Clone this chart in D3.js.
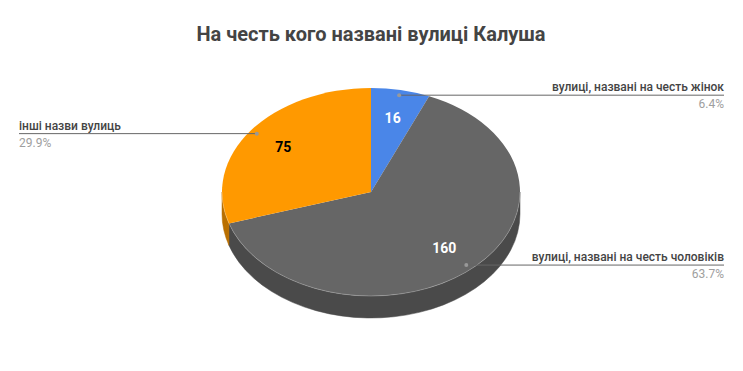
<!DOCTYPE html>
<html>
<head>
<meta charset="utf-8">
<script src="https://cdnjs.cloudflare.com/ajax/libs/d3/7.8.5/d3.min.js"></script>
<style>
  body { margin: 0; background: #fff; }
  text { font-family: Roboto, "Noto Sans", sans-serif; }
</style>
</head>
<body>
<script>
var chartTitle = "На честь кого названі вулиці Калуша";
var categories = ["вулиці, названі на честь жінок", "вулиці, названі на честь чоловіків", "інші назви вулиць"];
var values = [16, 160, 75];
var colors = ["#4a86e8", "#666666", "#ff9900"];

var width = 743, height = 371;
var cx = 371, cy = 192, rx = 149, ry = 104, depth = 22;

var svg = d3.select("body")
   .append("svg")
   .attr("width", width)
   .attr("height", height);

svg.append("text")
   .attr("x", 371)
   .attr("y", 41)
   .attr("text-anchor", "middle")
   .style("font-size", "20px")
   .style("font-weight", "bold")
   .style("fill", "#444444")
   .text(chartTitle);

var total = d3.sum(values);
var data = categories.map(function(c, i) {
   return { name: c, value: values[i], color: colors[i] };
});

var pie = d3.pie()
   .sort(null)
   .value(function(d) { return d.value; });
var arcs = pie(data);

function px(a, f) { return cx + rx * f * Math.sin(a); }
function py(a, f) { return cy - ry * f * Math.cos(a); }

// side walls (only front half, angles between PI/2 and 3PI/2)
var sides = svg.append("g");
arcs.forEach(function(d) {
   var a0 = Math.max(d.startAngle, Math.PI / 2);
   var a1 = Math.min(d.endAngle, 3 * Math.PI / 2);
   if (a1 <= a0) return;
   var path = "M" + px(a0, 1) + "," + py(a0, 1) +
      " A" + rx + "," + ry + " 0 0 1 " + px(a1, 1) + "," + py(a1, 1) +
      " L" + px(a1, 1) + "," + (py(a1, 1) + depth) +
      " A" + rx + "," + ry + " 0 0 0 " + px(a0, 1) + "," + (py(a0, 1) + depth) + " Z";
   var side = d3.color(d.data.color).darker(0.9);
   sides.append("path")
      .attr("d", path)
      .style("fill", side)
      .style("stroke", side)
      .style("stroke-width", 0.5);
});

// top surface
var tops = svg.append("g");
arcs.forEach(function(d) {
   var large = (d.endAngle - d.startAngle) > Math.PI ? 1 : 0;
   var path = "M" + cx + "," + cy +
      " L" + px(d.startAngle, 1) + "," + py(d.startAngle, 1) +
      " A" + rx + "," + ry + " 0 " + large + " 1 " + px(d.endAngle, 1) + "," + py(d.endAngle, 1) + " Z";
   tops.append("path")
      .attr("d", path)
      .style("fill", d.data.color);
});

// faint rim highlight along front edge
svg.append("path")
   .attr("d", "M" + px(Math.PI / 2, 1) + "," + py(Math.PI / 2, 1) +
      " A" + rx + "," + ry + " 0 0 1 " + px(3 * Math.PI / 2, 1) + "," + py(3 * Math.PI / 2, 1))
   .style("fill", "none")
   .style("stroke", "rgba(255,255,255,0.25)")
   .style("stroke-width", 1);

// value labels inside slices
arcs.forEach(function(d) {
   var mid = (d.startAngle + d.endAngle) / 2;
   svg.append("text")
      .attr("x", px(mid, 0.73))
      .attr("y", py(mid, 0.73) + 5)
      .attr("text-anchor", "middle")
      .style("font-size", "14px")
      .style("font-weight", "bold")
      .style("fill", d.data.color == "#ff9900" ? "#000000" : "#ffffff")
      .text(d.data.value);
});

// callouts
arcs.forEach(function(d) {
   var mid = (d.startAngle + d.endAngle) / 2;
   var dx = px(mid, 0.95), dy = py(mid, 0.95);
   var right = Math.sin(mid) > 0;
   var xEnd = right ? 724 : 19;
   var anchor = right ? "end" : "start";
   svg.append("line")
      .attr("x1", dx).attr("y1", dy)
      .attr("x2", xEnd).attr("y2", dy)
      .style("stroke", "#666666")
      .style("stroke-width", 1);
   svg.append("circle")
      .attr("cx", dx).attr("cy", dy).attr("r", 2)
      .style("fill", "#999999");
   svg.append("text")
      .attr("x", xEnd).attr("y", dy - 4)
      .attr("text-anchor", anchor)
      .style("font-size", "12px")
      .style("font-weight", 500)
      .style("fill", "#444444")
      .text(d.data.name);
   svg.append("text")
      .attr("x", xEnd).attr("y", dy + 13)
      .attr("text-anchor", anchor)
      .style("font-size", "12px")
      .style("fill", "#9e9e9e")
      .text((d.data.value / total * 100).toFixed(1) + "%");
});
</script>
</body>
</html>
